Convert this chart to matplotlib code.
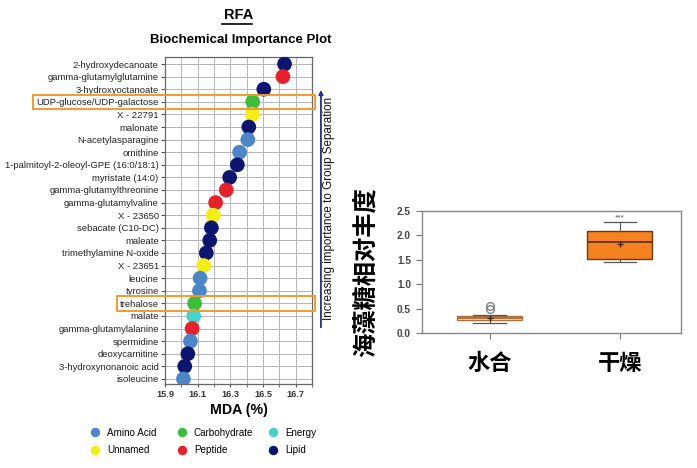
import matplotlib
matplotlib.use("Agg")
import matplotlib.pyplot as plt
from matplotlib.lines import Line2D
from matplotlib.patches import Rectangle
from matplotlib.ticker import MultipleLocator

plt.rcParams['font.family'] = ['Liberation Sans', 'DejaVu Sans']

# ---- dữ liệu: biểu đồ mức độ quan trọng (RFA) ----
metabolites = [
    "2-hydroxydecanoate", "gamma-glutamylglutamine", "3-hydroxyoctanoate",
    "UDP-glucose/UDP-galactose", "X - 22791", "malonate", "N-acetylasparagine",
    "ornithine", "1-palmitoyl-2-oleoyl-GPE (16:0/18:1)", "myristate (14:0)",
    "gamma-glutamylthreonine", "gamma-glutamylvaline", "X - 23650",
    "sebacate (C10-DC)", "maleate", "trimethylamine N-oxide", "X - 23651",
    "leucine", "tyrosine", "trehalose", "malate", "gamma-glutamylalanine",
    "spermidine", "deoxycarnitine", "3-hydroxynonanoic acid", "isoleucine",
]
mda = [16.632, 16.622, 16.505, 16.437, 16.435, 16.413, 16.407, 16.357,
       16.343, 16.296, 16.275, 16.210, 16.196, 16.184, 16.174, 16.153,
       16.137, 16.115, 16.111, 16.081, 16.076, 16.066, 16.056, 16.040,
       16.021, 16.013]
groups = ["Lipid", "Peptide", "Lipid", "Carbohydrate", "Unnamed", "Lipid",
          "Amino Acid", "Amino Acid", "Lipid", "Lipid", "Peptide", "Peptide",
          "Unnamed", "Lipid", "Lipid", "Lipid", "Unnamed", "Amino Acid",
          "Amino Acid", "Carbohydrate", "Energy", "Peptide", "Amino Acid",
          "Lipid", "Lipid", "Amino Acid"]
highlighted = ["UDP-glucose/UDP-galactose", "trehalose"]
legend_cols = [["Amino Acid", "Unnamed"], ["Carbohydrate", "Peptide"], ["Energy", "Lipid"]]

# ---- dữ liệu: boxplot trehalose ----
box_labels = ["水合", "干燥"]
box_q1 = [0.26, 1.52]
box_med = [0.31, 1.87]
box_q3 = [0.355, 2.09]
box_lo = [0.20, 1.45]
box_hi = [0.37, 2.27]
box_mean = [0.31, 1.82]
box_fliers = [[0.50, 0.56], []]
sig_text = ["", "***"]
sig_y = [0, 2.36]

group_colors = {
    "Amino Acid": "#4A86C8", "Carbohydrate": "#3DBE3A", "Energy": "#45D3CC",
    "Unnamed": "#F4EE12", "Peptide": "#E8202A", "Lipid": "#0C1670",
}
box_face = ["#FBE2B6", "#F5821F"]
box_edge = ["#B0703A", "#6B3A12"]

fig = plt.figure(figsize=(6.97, 4.68), dpi=100)

# 1. Biểu đồ chấm
ax = fig.add_axes([0.2367, 0.1795, 0.2109, 0.6985])
rows = list(range(len(metabolites)))
ax.scatter(mda, rows, c=[group_colors[g] for g in groups], s=112,
           edgecolors='none', zorder=3)
ax.set_ylim(len(metabolites) - 0.6, -0.55)
ax.set_xlim(15.9, 16.8)
ax.set_yticks(rows)
ax.set_yticklabels(metabolites, fontsize=6.8, color='#222222')
ax.xaxis.set_minor_locator(MultipleLocator(0.1))
ax.set_xticks([15.9, 16.1, 16.3, 16.5, 16.7])
ax.set_xticklabels(["15.9", "16.1", "16.3", "16.5", "16.7"], fontsize=6.6,
                   color='#333333', fontweight='bold')
ax.tick_params(axis='y', length=3, pad=1.5, color='#555555')
ax.tick_params(axis='x', which='both', length=2, pad=2, color='#555555')
ax.grid(True, which='both', color='#B5B5B5', lw=0.7, zorder=0)
for sp in ax.spines.values():
    sp.set_color('#666666')
    sp.set_linewidth(0.9)
ax.set_xlabel("MDA (%)", fontsize=10.2, fontweight='bold', labelpad=3)

fig.text(0.342, 0.968, "RFA", fontsize=10.5, fontweight='bold', ha='center', va='center')
fig.add_artist(Line2D([222 / 697, 252 / 697], [1 - 24 / 468, 1 - 24 / 468],
                      color='black', lw=1.2))
fig.text(0.346, 0.915, "Biochemical Importance Plot", fontsize=9.5,
         fontweight='bold', ha='center', va='center')

# mũi tên bên phải
ytr = ax.get_yaxis_transform()
ax.annotate("", xy=(1.061, 2.06), xytext=(1.061, 20.9), xycoords=ytr, textcoords=ytr,
            arrowprops=dict(arrowstyle='-|>', color='#2B2E83', lw=1.3,
                            mutation_scale=6, shrinkA=0, shrinkB=0))
ax.text(1.118, 11.48, "Increasing importance to Group Separation", transform=ytr,
        rotation=90, fontsize=8.4, ha='center', va='center', color='#111111')

# khung cam quanh các dòng được chọn
fig.canvas.draw()
inv = ax.transAxes.inverted()
for name in highlighted:
    i = metabolites.index(name)
    lab = ax.get_yticklabels()[i]
    bb = lab.get_window_extent()
    x0 = inv.transform((bb.x0 - 3, 0))[0]
    x1 = inv.transform((ax.get_window_extent().x1 + 3, 0))[0]
    ax.add_patch(Rectangle((x0, i - 0.57), x1 - x0, 1.14, transform=ytr,
                           fill=False, ec='#F39A2B', lw=1.4, clip_on=False, zorder=5))

# chú thích
for k, col in enumerate(legend_cols):
    handles = [Line2D([], [], marker='o', ls='none', markersize=6.8,
                      markerfacecolor=group_colors[g], markeredgecolor='none')
               for g in col]
    fig.legend(handles, col, loc='center left',
               bbox_to_anchor=([90, 177, 268][k] / 697, 0.0566),
               frameon=False, fontsize=7.1, handlelength=1.0, handletextpad=0.7,
               labelspacing=0.75, borderpad=0, borderaxespad=0)

# 2. Boxplot trehalose
bx = fig.add_axes([0.6055, 0.2885, 0.3716, 0.2606])
stats = []
for j in range(len(box_labels)):
    stats.append(dict(label=box_labels[j], q1=box_q1[j], med=box_med[j], q3=box_q3[j],
                      whislo=box_lo[j], whishi=box_hi[j], mean=box_mean[j],
                      fliers=box_fliers[j]))
pos = [1, 2]
bp = bx.bxp(stats, positions=pos, widths=0.5, patch_artist=True, showmeans=True,
            meanprops=dict(marker='+', markeredgecolor='#3A2A1A', markersize=5, mew=1),
            flierprops=dict(marker='o', markerfacecolor='none', markeredgecolor='#777777',
                            markersize=5.5, mew=0.9),
            whiskerprops=dict(color='#555555', lw=0.8),
            capprops=dict(color='#555555', lw=0.9), capwidths=0.25)
for j, patch in enumerate(bp['boxes']):
    patch.set_facecolor(box_face[j])
    patch.set_edgecolor(box_edge[j])
    patch.set_linewidth(1.0)
    bp['medians'][j].set_color(box_edge[j])
    bp['medians'][j].set_linewidth(1.4)
for j in range(len(box_labels)):
    if sig_text[j]:
        bx.text(pos[j], sig_y[j], sig_text[j], ha='center', va='center',
                fontsize=6, color='#555555')
bx.set_xlim(0.48, 2.47)
bx.set_ylim(0, 2.5)
bx.set_yticks([0.0, 0.5, 1.0, 1.5, 2.0, 2.5])
bx.set_yticklabels(["0.0", "0.5", "1.0", "1.5", "2.0", "2.5"], fontsize=7.3,
                   color='#444444', fontweight='bold')
bx.set_xticks(pos)
bx.set_xticklabels(box_labels, fontsize=16, fontweight='bold',
                   family=['Noto Sans CJK SC', 'DejaVu Sans'])
bx.tick_params(axis='y', length=4, pad=4, color='#777777')
bx.tick_params(axis='x', length=4, pad=10, color='#777777')
for sp in bx.spines.values():
    sp.set_color('#888888')
    sp.set_linewidth(1.0)
bx.set_ylabel("海藻糖相对丰度", fontsize=17.5, fontweight='bold',
              family=['Noto Sans CJK SC', 'DejaVu Sans'])
bx.yaxis.set_label_coords(-0.17, 0.5)

fig.savefig("out.png", dpi=100)
